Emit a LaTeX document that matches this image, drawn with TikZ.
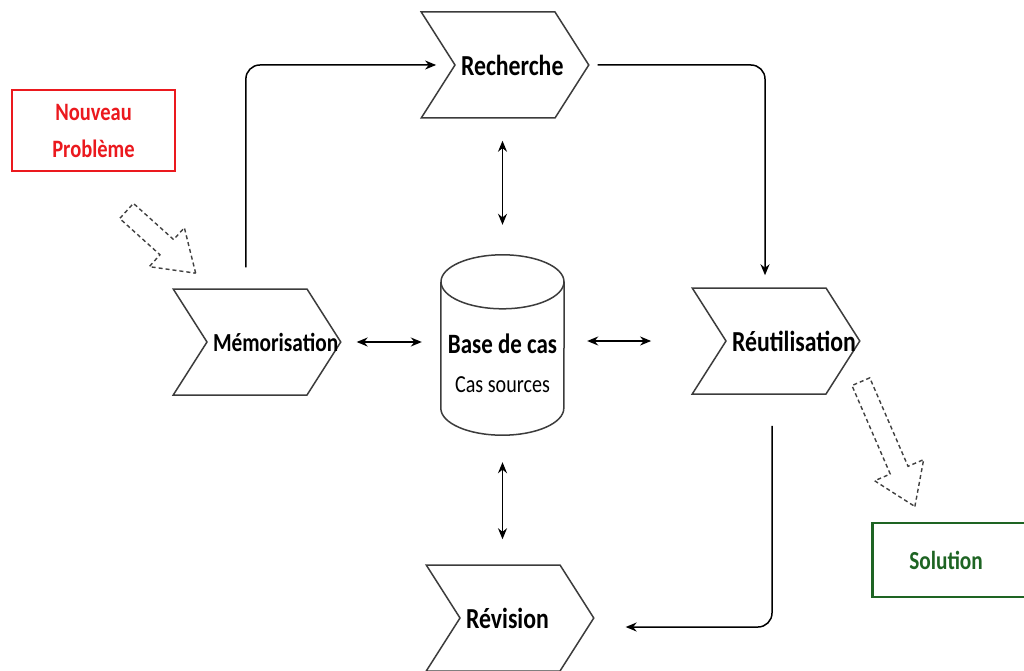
\documentclass[tikz,border=0pt]{standalone}
\usepackage{fontspec}
\setmainfont{Carlito}[FakeStretch=0.82]
\usetikzlibrary{shapes.symbols,shapes.arrows,arrows.meta}

\definecolor{rougeNP}{RGB}{235,25,30}
\definecolor{vertSol}{RGB}{30,100,35}
\definecolor{traitEtape}{RGB}{60,60,60}

\tikzset{
  etape/.style={signal, signal from=west, signal to=east, signal pointer angle=115,
    draw=traitEtape, line width=1.5pt, fill=white, minimum height=106pt,
    text width=88pt, inner xsep=6pt, inner ysep=0pt, align=left,
    font=\fontsize{29}{32}\selectfont\bfseries},
  fleche/.style={-{Stealth[length=11pt,width=9pt]}, line width=1.5pt, rounded corners=14pt},
  dfleche/.style={{Stealth[length=11pt,width=9pt]}-{Stealth[length=11pt,width=9pt]}, line width=1.5pt},
  bloc/.style={single arrow, draw=black!75, dash pattern=on 4pt off 3pt, line width=1.4pt,
    single arrow tip angle=68},
  cyl/.style={draw=traitEtape, line width=1.5pt},
}

\begin{document}
\begin{tikzpicture}[x=1pt,y=-1pt]
\useasboundingbox (0,0) rectangle (1024,671);
\fill[white] (0,0) rectangle (1024,671);
\clip (0,0) rectangle (1024,671);

% les quatre etapes
\node[etape] (rech) at (505,65) {Recherche};
\node[etape, font=\fontsize{26}{30}\selectfont\bfseries] (memo) at (257,342) {Mémorisation};
\node[etape] (reut) at (776,341) {Réutilisation};
\node[etape] (revi) at (510,618) {Révision};

% base de cas
\node[minimum width=123pt, minimum height=180pt, inner sep=0pt] (base) at (502.5,345) {};
\draw[cyl] ([yshift=-27pt]base.north west) -- ([yshift=27pt]base.south west)
  arc[start angle=180, end angle=360, x radius=61.5pt, y radius=27pt]
  -- ([yshift=-27pt]base.north east);
\draw[cyl] ([yshift=-27pt]base.north) ellipse [x radius=61.5pt, y radius=27pt];
\node[align=center, font=\fontsize{28}{39}\selectfont\bfseries] (baseTxt) at (502.5,363)
  {Base de cas\\{\fontsize{24.5}{28}\selectfont\mdseries Cas sources}};

% entree et sortie
\node[draw=rougeNP, line width=2.5pt, minimum width=163pt, minimum height=81pt, text=rougeNP,
  align=center, font=\fontsize{25}{37}\selectfont\bfseries] (nouveau) at (93.5,130.5) {Nouveau\\Problème};
\node[draw=vertSol, line width=2.5pt, minimum height=74pt, anchor=west, text width=100pt,
  inner xsep=37pt, align=left, text=vertSol, font=\fontsize{26}{30}\selectfont\bfseries] (sol) at (871,560) {Solution};

\node[bloc, rotate=-42, minimum height=93pt, inner sep=9.5pt, single arrow head extend=16pt] (versMemo) at (155.5,237) {};
\node[bloc, rotate=-66.6, minimum height=136pt, inner sep=9pt, single arrow head extend=17pt] (versSol) at (885,437.5) {};

% le cycle
\draw[fleche] ([xshift=74pt,yshift=21pt]memo.north west) |- ([xshift=-18pt]rech.west);
\draw[fleche] ([xshift=8pt]rech.east) -| ([xshift=-11pt,yshift=12pt]reut.north);
\draw[fleche] ([xshift=-4pt,yshift=-31pt]reut.south) |- ([xshift=31pt,yshift=-9pt]revi.east);

% echanges avec la base
\draw[dfleche, shorten <=22pt, shorten >=30pt] (base.north |- rech.south) -- (base.north);
\draw[dfleche, shorten <=27pt, shorten >=25pt] (base.south) -- (base.south |- revi.north);
\draw[dfleche, shorten <=15pt, shorten >=19pt] (memo.east) -- (memo.east -| base.west);
\draw[dfleche, shorten <=23pt, shorten >=74pt] (reut.west -| base.east) -- (reut.west);
\end{tikzpicture}
\end{document}
